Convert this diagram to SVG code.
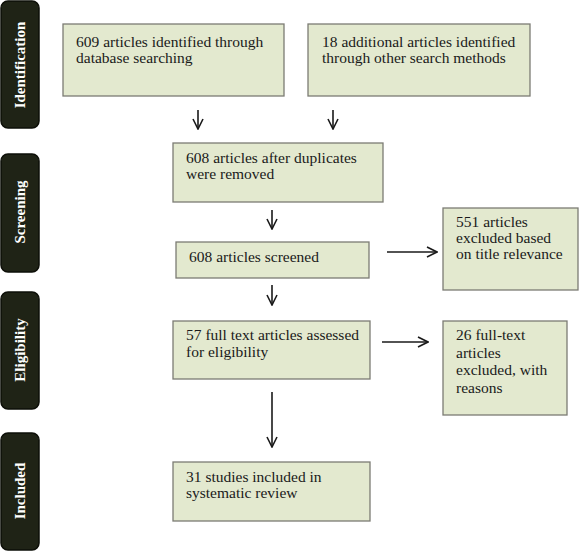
<svg xmlns="http://www.w3.org/2000/svg" width="580" height="551" viewBox="0 0 580 551">
<defs>
<style>
.side rect{fill:#1f2316;stroke:#0d0f08;stroke-width:1.5}
.side text{fill:#ffffff;font-family:"Liberation Serif","DejaVu Serif",serif;font-weight:bold;font-size:15px;text-anchor:middle}
.box rect{fill:#e3e9cf;stroke:#7c7c74;stroke-width:1.3}
.box text{fill:#1a1a1a;font-family:"Liberation Serif","DejaVu Serif",serif;font-size:15.5px}
.conn line{stroke:#1a1a1a;stroke-width:1.6;fill:none}
</style>
<marker id="ah" viewBox="0 0 12 12" refX="11" refY="6" markerWidth="12" markerHeight="12" markerUnits="userSpaceOnUse" orient="auto">
<path d="M1,1 L11,6 L1,11" fill="none" stroke="#1a1a1a" stroke-width="1.6"/>
</marker>
</defs>
<rect width="580" height="551" fill="#ffffff"/>

<g id="side-identification" class="side">
<rect x="1" y="1" width="38" height="127" rx="7"/>
<text transform="translate(25,65) rotate(-90)">Identification</text>
</g>
<g id="side-screening" class="side">
<rect x="1" y="154" width="38" height="118" rx="7"/>
<text transform="translate(25,212) rotate(-90)">Screening</text>
</g>
<g id="side-eligibility" class="side">
<rect x="1" y="292" width="38" height="117" rx="7"/>
<text transform="translate(25,350) rotate(-90)">Eligibility</text>
</g>
<g id="side-included" class="side">
<rect x="1" y="433" width="38" height="117" rx="7"/>
<text transform="translate(25,491) rotate(-90)">Included</text>
</g>

<g id="box-database" class="box">
<rect x="63" y="24" width="221" height="72"/>
<text x="76" y="47">609 articles identified through</text>
<text x="76" y="63">database searching</text>
</g>
<g id="box-other" class="box">
<rect x="308" y="24" width="222" height="72"/>
<text x="322" y="47">18 additional articles identified</text>
<text x="322" y="63">through other search methods</text>
</g>
<g id="box-duplicates" class="box">
<rect x="173" y="143" width="210" height="59"/>
<text x="186" y="163">608 articles after duplicates</text>
<text x="186" y="179">were removed</text>
</g>
<g id="box-screened" class="box">
<rect x="176" y="242" width="193" height="36"/>
<text x="189" y="262">608 articles screened</text>
</g>
<g id="box-excluded-title" class="box">
<rect x="443" y="208" width="135" height="82"/>
<text x="456" y="227">551 articles</text>
<text x="456" y="243">excluded based</text>
<text x="456" y="259">on title relevance</text>
</g>
<g id="box-fulltext" class="box">
<rect x="173" y="321" width="197" height="58"/>
<text x="186" y="340">57 full text articles assessed</text>
<text x="186" y="357">for eligibility</text>
</g>
<g id="box-excluded-reasons" class="box">
<rect x="443" y="321" width="124" height="94"/>
<text x="456" y="340">26 full-text</text>
<text x="456" y="357.5">articles</text>
<text x="456" y="375">excluded, with</text>
<text x="456" y="392.5">reasons</text>
</g>
<g id="box-included" class="box">
<rect x="173" y="462" width="197" height="59"/>
<text x="186" y="482">31 studies included in</text>
<text x="186" y="498">systematic review</text>
</g>

<g id="connectors" class="conn">
<line x1="198" y1="110" x2="198" y2="129" marker-end="url(#ah)"/>
<line x1="333" y1="110" x2="333" y2="129" marker-end="url(#ah)"/>
<line x1="272" y1="210" x2="272" y2="229" marker-end="url(#ah)"/>
<line x1="387" y1="252" x2="437" y2="252" marker-end="url(#ah)"/>
<line x1="272" y1="285" x2="272" y2="305" marker-end="url(#ah)"/>
<line x1="382" y1="342" x2="428" y2="342" marker-end="url(#ah)"/>
<line x1="272" y1="392" x2="272" y2="447" marker-end="url(#ah)"/>
</g>
</svg>
